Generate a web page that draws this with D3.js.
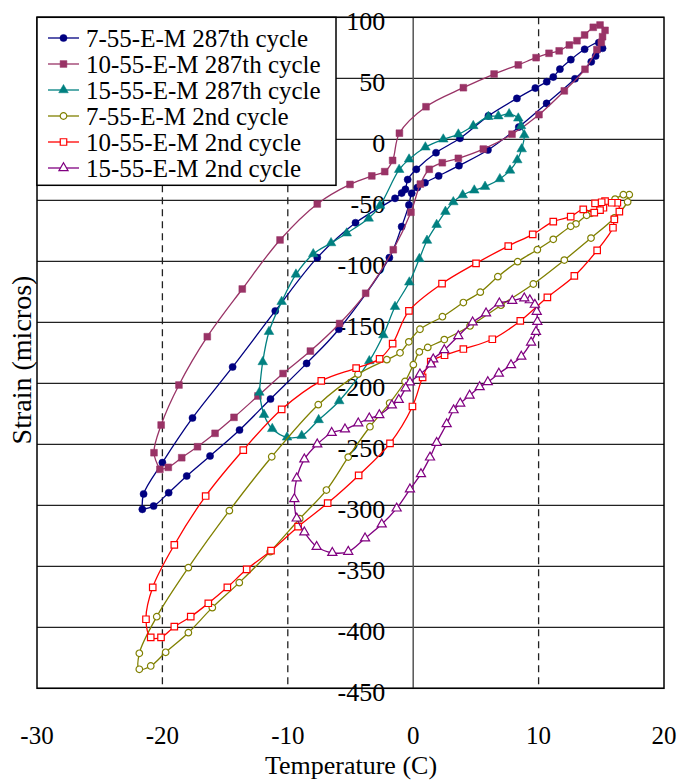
<!DOCTYPE html>
<html>
<head>
<meta charset="utf-8">
<script src="https://cdn.jsdelivr.net/npm/d3@7.9.0/dist/d3.min.js"></script>
<style>
  body { margin: 0; background: #fff; }
  svg { display: block; }
  svg text { font-family: "Liberation Serif", "DejaVu Serif", "Times New Roman", serif; }
</style>
</head>
<body>
<svg id="chart" width="678" height="780"></svg>
<script>
// Temperature (C) vs strain (micros), each series as [T, S] in plotting order
const navy287 = [
  [-21.6,-303.3],[-21.5,-290.7],[-20.0,-265],[-17.6,-228.4],[-14.4,-186.6],[-11.0,-140.7],
  [-7.65,-97],[-4.6,-68.4],[-1.45,-48.4],[-0.92,-44.1],[-0.62,-41],[-0.44,-33],[0.25,-24.6],
  [1.82,-11],[3.73,0.8],[6.0,19.2],[8.27,33.5],[9.74,42],[10.65,47.2],[11.17,51],[11.7,57.5],
  [12.57,65.3],[13.67,73.8],[14.8,79.2],[15.1,74.6],[14.55,68.3],[14.2,63.5],[12.9,49.6],
  [10.64,29.4],[8.42,10],[5.96,-8.8],[3.65,-21.6],[2.03,-30],[0.94,-35.6],[0.33,-39.6],
  [-0.12,-44.3],[-0.34,-53.8],[-0.92,-71.6],[-1.9,-97],[-5.93,-155.7],[-8.5,-183.7],
  [-11.38,-212.9],[-13.85,-238.3],[-16.2,-259.6],[-18.06,-276],[-19.5,-289.7],[-20.7,-300.6],
  [-21.6,-303.3]
];
const maroon287 = [
  [-20.2,-270.5],[-20.67,-256.9],[-20.1,-234.2],[-18.68,-201.4],[-16.42,-161.8],[-13.63,-122.7],
  [-10.62,-82.5],[-7.65,-53],[-5.04,-37],[-3.3,-30],[-2.27,-26.5],[-1.64,-17.3],[-1.1,5],
  [1.02,26.7],[4.0,42.3],[6.45,53.5],[8.38,61],[9.8,66.9],[10.83,70.5],[11.64,72.5],
  [12.45,77.3],[13.06,80.8],[13.67,85.5],[14.36,91.8],[14.9,93.7],[15.3,89.3],[15.1,84.1],
  [15.0,79.3],[14.65,73.5],[13.7,57.4],[12.05,39.7],[10.03,20.2],[7.88,4.2],[5.59,-8],
  [3.6,-15.6],[2.32,-19.2],[1.28,-24.6],[0.57,-36.7],[-0.18,-59.8],[-1.59,-90.5],
  [-3.79,-126.2],[-5.87,-151],[-8.2,-173.6],[-10.38,-192],[-12.38,-210.4],[-14.29,-227.9],
  [-15.8,-241],[-17.2,-252],[-18.46,-261],[-19.53,-268.9],[-20.2,-270.5]
];
const teal287 = [
  [-12.27,-207.5],[-12.0,-182.5],[-11.5,-157.7],[-10.49,-133.1],[-9.35,-110.7],[-7.97,-94],
  [-6.55,-85],[-5.3,-77],[-3.55,-64.8],[-2.65,-54.3],[-1.12,-24.9],[-0.33,-16.4],[0.97,-6.5],
  [2.4,0],[3.6,4.1],[4.79,11],[5.99,18.5],[6.79,19],[7.65,20.7],[8.38,17.2],[8.6,11],
  [8.86,3.5],[8.65,-8],[8.3,-17],[7.72,-25.5],[6.91,-32.5],[5.73,-38.8],[4.87,-41.8],
  [3.95,-45.7],[3.2,-51.4],[2.57,-59.3],[1.87,-70],[1.1,-83],[0.49,-98],[-0.31,-117.2],
  [-1.45,-137.2],[-2.38,-160.4],[-3.5,-181.7],[-5.9,-214.5],[-7.54,-230],[-8.89,-243],
  [-10.06,-244.3],[-11.24,-237.3],[-11.9,-225.7],[-12.27,-207.5]
];
const olive2nd = [
  [17.23,-45.4],[16.76,-45.4],[16.1,-49],[14.18,-60.7],[13.83,-62.3],[12.98,-69.3],
  [12.56,-71.3],[11.17,-82],[9.9,-90.5],[8.33,-100.3],[6.75,-112.6],[5.35,-125.3],
  [4.0,-133.8],[2.33,-145.4],[0.54,-155.7],[-0.35,-166],[-1.05,-175],[-2.1,-180.6],
  [-4.4,-192.5],[-7.57,-217.5],[-11.28,-260.2],[-14.66,-304.4],[-17.93,-351.1],
  [-20.45,-391.3],[-21.84,-421.3],[-21.84,-434.4],[-20.93,-431.7],[-19.74,-420.5],
  [-17.93,-404.4],[-16.02,-383.9],[-13.87,-363.4],[-11.4,-338],[-9.05,-311],[-6.92,-287.5],
  [-5.18,-260.5],[-3.45,-235.6],[-1.88,-216.2],[-0.65,-198.5],[0.01,-184.7],[0.49,-174.3],
  [1.16,-170.6],[2.48,-164.2],[4.53,-153],[7.0,-136],[9.58,-118.6],[12.05,-99],
  [14.18,-81],[16.04,-64.5],[17.1,-51.3],[17.23,-45.4]
];
const red2nd = [
  [15.17,-56.1],[14.9,-58],[14.44,-60.1],[13.56,-57.4],[12.56,-63.4],[11.17,-67.5],
  [9.53,-77.9],[7.58,-87.5],[5.01,-101.7],[2.3,-118.3],[-0.34,-140.7],[-1.64,-167.5],
  [-2.68,-180],[-4.55,-187.5],[-7.33,-198],[-10.49,-221.3],[-13.55,-254.7],[-16.55,-292.4],
  [-19.05,-332.5],[-20.77,-367.2],[-21.31,-393.4],[-20.93,-408.2],[-20.11,-408.2],
  [-19.05,-399.5],[-17.74,-391.3],[-16.34,-380.3],[-14.82,-367.2],[-13.28,-352.5],
  [-11.34,-337.2],[-9.18,-317.5],[-6.82,-298.2],[-4.35,-275.5],[-1.85,-249.2],[-0.06,-219],
  [0.75,-195.1],[1.4,-182.3],[2.5,-177],[4.0,-171.9],[6.31,-163.9],[8.54,-148.9],
  [10.7,-129.5],[12.85,-112],[14.67,-91],[15.93,-72.5],[16.04,-65.6],[16.44,-59.3],
  [16.28,-52],[15.83,-52],[15.3,-50.6],[15.03,-51.6],[14.5,-52.5]
];
const purple2nd = [
  [9.3,-131.8],[8.86,-130.3],[7.9,-132.3],[6.87,-134.4],[5.81,-142.6],[4.74,-150],
  [3.6,-161.2],[2.48,-172.7],[1.6,-180.3],[1.42,-184.4],[0.54,-192.6],[-0.26,-199.2],
  [-0.6,-204],[-1.15,-213.5],[-1.7,-218],[-2.7,-226],[-3.5,-228.7],[-4.38,-232.8],
  [-5.44,-237.7],[-6.5,-240.5],[-7.65,-250],[-8.68,-262.3],[-9.29,-277.9],[-9.48,-294.8],
  [-9.29,-310.7],[-8.68,-322.1],[-7.7,-334],[-6.45,-338.9],[-5.18,-338],[-3.84,-327],
  [-2.51,-315.6],[-1.32,-302.5],[-0.26,-286.9],[0.62,-274.3],[1.34,-260.7],[1.87,-248.7],
  [2.67,-233.4],[3.22,-222],[3.75,-216.5],[4.5,-210],[5.3,-203],[5.95,-199],[6.83,-192],
  [7.8,-185],[8.62,-178],[9.4,-166.5],[9.79,-157.7],[9.9,-149.5],[9.85,-141.3],[9.7,-135.5],
  [9.3,-131.8]
];

const seriesNames = [
  "7-55-E-M 287th cycle", "10-55-E-M 287th cycle", "15-55-E-M 287th cycle",
  "7-55-E-M 2nd cycle", "10-55-E-M 2nd cycle", "15-55-E-M 2nd cycle"
];
const seriesData = [navy287, maroon287, teal287, olive2nd, red2nd, purple2nd];
const seriesColors = ["#000080", "#993366", "#008080", "#808000", "#ff0000", "#800080"];
const seriesShapes = ["circle", "square", "triangle", "circle", "square", "triangle"];
const seriesFilled = [true, true, true, false, false, false];
// the red 2nd-cycle trace does not close on itself, the others do
const seriesClosed = [true, true, true, true, false, true];

const xTicks = [-30, -20, -10, 0, 10, 20];
const yTicks = [100, 50, 0, -50, -100, -150, -200, -250, -300, -350, -400, -450];
const dashedX = [-20, -10, 10];

const svg = d3.select("#chart");
const x = d3.scaleLinear().domain([-30, 20]).range([37, 664]);
const y = d3.scaleLinear().domain([-450, 100]).range([688.3, 17.3]);

// horizontal grid
svg.append("g").selectAll("line").data(yTicks).join("line")
  .attr("x1", x(-30)).attr("x2", x(20))
  .attr("y1", d => y(d)).attr("y2", d => y(d))
  .attr("stroke", "#222").attr("stroke-width", 1.3);

// dashed verticals
svg.append("g").selectAll("line").data(dashedX).join("line")
  .attr("x1", d => x(d)).attr("x2", d => x(d))
  .attr("y1", y(100)).attr("y2", y(-450))
  .attr("stroke", "#222").attr("stroke-width", 1.3)
  .attr("stroke-dasharray", "7,5");

// y axis through zero
svg.append("line")
  .attr("x1", x(0)).attr("x2", x(0)).attr("y1", y(100)).attr("y2", y(-450))
  .attr("stroke", "#555").attr("stroke-width", 1.5);

// plot frame
svg.append("rect")
  .attr("x", x(-30)).attr("y", y(100))
  .attr("width", x(20) - x(-30)).attr("height", y(-450) - y(100))
  .attr("fill", "none").attr("stroke", "#000").attr("stroke-width", 1.5);

// y tick labels sit left of the zero line
svg.append("g").selectAll("text").data(yTicks).join("text")
  .attr("x", x(0) - 28).attr("y", d => y(d) + 12.7)
  .attr("text-anchor", "end").attr("font-size", 26)
  .text(d => d);

// x tick labels
svg.append("g").selectAll("text").data(xTicks).join("text")
  .attr("x", d => x(d)).attr("y", 744)
  .attr("text-anchor", "middle").attr("font-size", 25)
  .text(d => d);

svg.append("text")
  .attr("x", 351).attr("y", 773.5).attr("text-anchor", "middle")
  .attr("font-size", 26).text("Temperature (C)");

svg.append("text")
  .attr("transform", "translate(31,360) rotate(-90)")
  .attr("text-anchor", "middle").attr("font-size", 28)
  .text("Strain (micros)");

const symbolType = { circle: d3.symbolCircle, square: d3.symbolSquare, triangle: d3.symbolTriangle };
function symbolSize(shape, filled) {
  if (shape === "circle") return filled ? 40 : 34;
  if (shape === "square") return filled ? 46 : 42;
  return filled ? 40 : 36;
}

const line = d3.line()
  .x(d => x(d[0])).y(d => y(d[1]))
  .curve(d3.curveCatmullRom.alpha(0.5));

seriesData.forEach((data, i) => {
  const g = svg.append("g");
  g.append("path").datum(data)
    .attr("d", line)
    .attr("fill", "none")
    .attr("stroke", seriesColors[i])
    .attr("stroke-width", 1.3);
  const sym = d3.symbol().type(symbolType[seriesShapes[i]]).size(symbolSize(seriesShapes[i], seriesFilled[i]));
  const pts = seriesClosed[i] ? data.slice(0, -1) : data;
  g.selectAll("path.m").data(pts).join("path")
    .attr("class", "m")
    .attr("transform", d => `translate(${x(d[0])},${y(d[1])})`)
    .attr("d", sym)
    .attr("fill", seriesFilled[i] ? seriesColors[i] : "#fff")
    .attr("stroke", seriesColors[i])
    .attr("stroke-width", seriesFilled[i] ? 0.5 : 1.2);
});

// legend
const legend = svg.append("g");
legend.append("rect")
  .attr("x", 37).attr("y", 17.3).attr("width", 299).attr("height", 168)
  .attr("fill", "#fff").attr("stroke", "#000").attr("stroke-width", 1.5);
seriesNames.forEach((name, i) => {
  const ly = 38 + i * 26;
  legend.append("line")
    .attr("x1", 48).attr("x2", 79).attr("y1", ly).attr("y2", ly)
    .attr("stroke", seriesColors[i]).attr("stroke-width", 1.3);
  legend.append("path")
    .attr("transform", `translate(63.5,${ly})`)
    .attr("d", d3.symbol().type(symbolType[seriesShapes[i]]).size(symbolSize(seriesShapes[i], seriesFilled[i])))
    .attr("fill", seriesFilled[i] ? seriesColors[i] : "#fff")
    .attr("stroke", seriesColors[i])
    .attr("stroke-width", seriesFilled[i] ? 0.5 : 1.2);
  legend.append("text")
    .attr("x", 86).attr("y", ly + 8.5)
    .attr("font-size", 25)
    .text(name);
});
</script>
</body>
</html>
